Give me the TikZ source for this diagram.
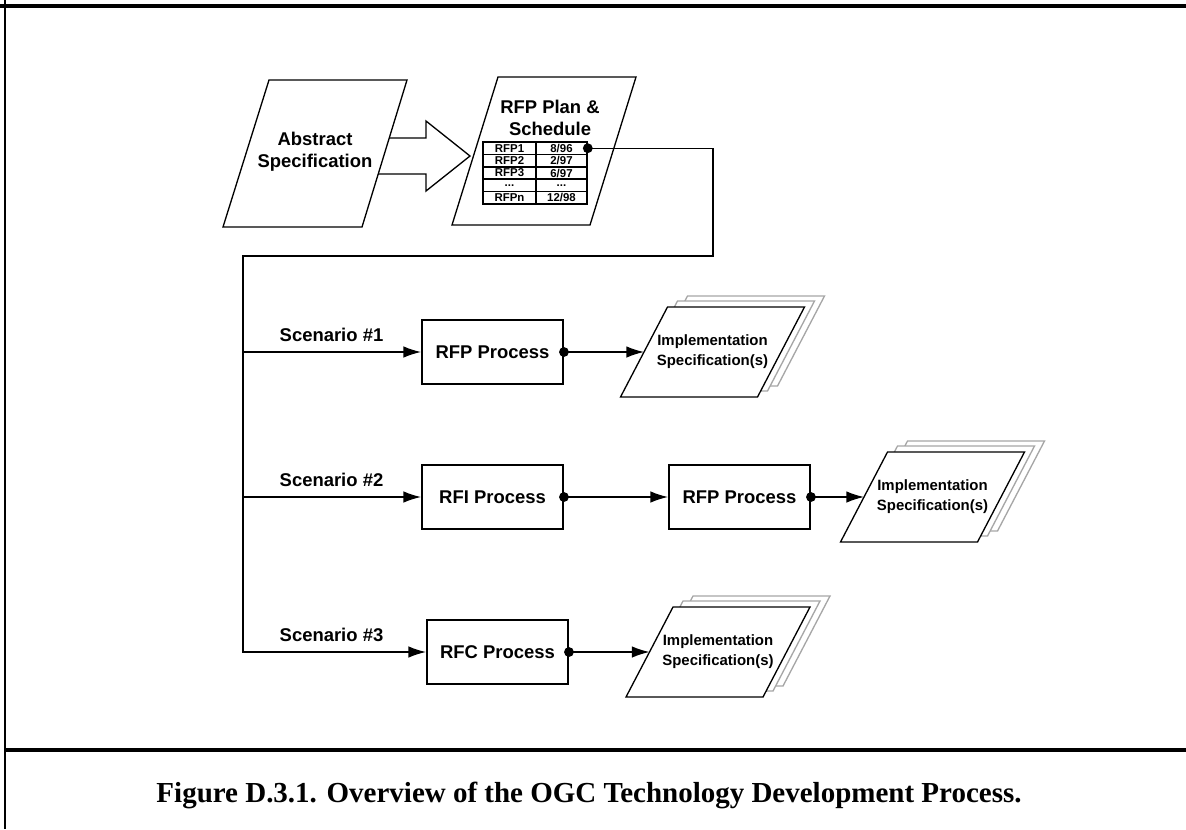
\documentclass[tikz,border=0pt]{standalone}
\usepackage{fontspec}
\setmainfont{Liberation Serif}
\setsansfont{Liberation Sans}
\usetikzlibrary{arrows.meta}

\tikzset{
  procbox/.style={draw, line width=1.1pt, minimum width=2.82cm, minimum height=1.28cm,
    font=\sffamily\bfseries\fontsize{10.5}{12.5}\selectfont},
  bigtext/.style={align=center, font=\sffamily\bfseries\fontsize{10.5}{12.5}\selectfont},
  doctext/.style={align=center, inner sep=0pt, font=\sffamily\bfseries\fontsize{8.5}{11.3}\selectfont},
  scen/.style={font=\sffamily\bfseries\fontsize{10.5}{12.5}\selectfont},
  cell/.style={draw, line width=0.9pt, minimum height=0.248cm, inner sep=0pt,
    font=\sffamily\bfseries\fontsize{6.5}{6.5}\selectfont},
  conn/.style={line width=0.75pt},
}

\begin{document}
\begin{tikzpicture}[x=0.02cm, y=-0.02cm]
    \tikzset{>={Latex[length=10pt,width=6.5pt]}}
    \useasboundingbox (0,0) rectangle (1186,829);
    % frame
    \draw[line width=2pt] (0,6) -- (1186,6);
    \draw[line width=1.7pt] (5,0) -- (5,829);
    \draw[line width=2.3pt] (5,750) -- (1186,750);

    % abstract spec
    \draw[line width=0.75pt] (223,227) -- (362,227) -- (407,80) -- (269,80) -- cycle;
    \node[bigtext] (abs) at (315,152) {Abstract\\Specification};
    \draw[line width=0.75pt] (389,138) -- (426,138) -- (426,121) -- (470,156) -- (426,191) -- (426,174) -- (378,174);

    % plan and schedule
    \draw[line width=0.75pt] (452,225) -- (590,225) -- (636,77) -- (498,77) -- cycle;
    \node[bigtext] (plan) at (550,118) {RFP Plan \&\\Schedule};
    \node[cell, minimum width=1.06cm] (r1a) at (509.5,148.2) {RFP1};
    \node[cell, minimum width=1.02cm] (r1b) at (561.5,148.2) {8/96};
    \node[cell, minimum width=1.06cm] (r2a) at (509.5,160.6) {RFP2};
    \node[cell, minimum width=1.02cm] (r2b) at (561.5,160.6) {2/97};
    \node[cell, minimum width=1.06cm] (r3a) at (509.5,173.0) {RFP3};
    \node[cell, minimum width=1.02cm] (r3b) at (561.5,173.0) {6/97};
    \node[cell, minimum width=1.06cm] (r4a) at (509.5,185.4) {...};
    \node[cell, minimum width=1.02cm] (r4b) at (561.5,185.4) {...};
    \node[cell, minimum width=1.06cm] (r5a) at (509.5,197.8) {RFPn};
    \node[cell, minimum width=1.02cm] (r5b) at (561.5,197.8) {12/98};

    % implementation specs
    \foreach \n/\cx/\cy in {im1/712.5/352, im2/932.5/497, im3/718/652} {
      \begin{scope}[shift={(\cx,\cy)}]
        \foreach \o/\p in {20/-11, 10/-6}
          \draw[shift={(\o,\p)}, gray!70, fill=white, line width=0.75pt] (-92,45) -- (45,45) -- (92,-45) -- (-45,-45) -- cycle;
        \draw[fill=white, line width=0.75pt] (-92,45) -- (45,45) -- (92,-45) -- (-45,-45) -- cycle;
        \node[doctext] (\n) at (0,0) {Implementation\\Specification(s)};
        \coordinate (\n-in) at (-68.5,0);
      \end{scope}
    }

    % processes
    \node[procbox] (rfp1) at (492.5,352) {RFP Process};
    \node[procbox] (rfi) at (492.5,497) {RFI Process};
    \node[procbox] (rfp2) at (739.5,497) {RFP Process};
    \node[procbox] (rfc) at (497.5,652) {RFC Process};

    \node[scen] (sc1) at (331.5,335) {Scenario \#1};
    \node[scen] (sc2) at (331.5,480) {Scenario \#2};
    \node[scen] (sc3) at (331.5,635) {Scenario \#3};

    \coordinate (bend1) at (713,256);
    \coordinate (bend2) at (243,256);
    \coordinate (s1) at (243,352);
    \coordinate (s2) at (243,497);
    \coordinate (s3) at (243,652);

    \fill (r1b.east) circle (2.8pt);
    \draw[conn,->] (r1b.east) -| (bend1) -- (bend2) -- (s3) -- (rfc.west);
    \draw[conn,->] (s1) -- (rfp1.west);
    \draw[conn,->] (s2) -- (rfi.west);

    \fill (rfp1.east) circle (2.8pt);
    \draw[conn,->] (rfp1.east) -- (im1-in);
    \fill (rfi.east) circle (2.8pt);
    \draw[conn,->] (rfi.east) -- (rfp2.west);
    \fill (rfp2.east) circle (2.8pt);
    \draw[conn,->] (rfp2.east) -- (im2-in);
    \fill (rfc.east) circle (2.8pt);
    \draw[conn,->] (rfc.east) -- (im3-in);

    % caption
    \node[font=\bfseries\fontsize{16.5}{19}\selectfont] (cap) at (589,795) {Figure D.3.1. Overview of the OGC Technology Development Process.};
\end{tikzpicture}
\end{document}
